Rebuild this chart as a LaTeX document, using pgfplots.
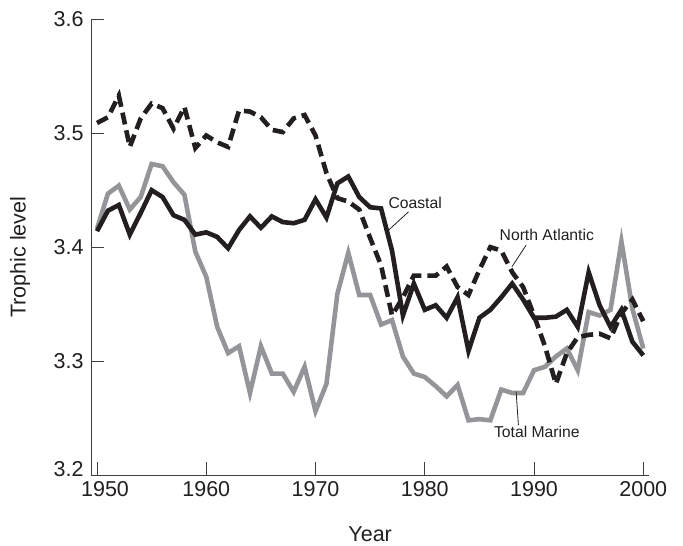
\documentclass[border=0pt]{standalone}
\usepackage{pgfplots}
\pgfplotsset{compat=1.18}
\usepackage{fontspec}
\setmainfont{Liberation Sans}
\definecolor{ink}{HTML}{231F20}
\definecolor{gr}{HTML}{939598}
\begin{document}
\begin{tikzpicture}
\path[use as bounding box] (-91bp,-71bp) rectangle (592bp,475bp);
\begin{axis}[
  at={(0,0)}, anchor=south west,
  width=558.3bp, height=455.7bp, scale only axis,
  xmin=1949.45, xmax=2000.55, ymin=3.2, ymax=3.6,
  axis x line*=bottom, axis y line*=left,
  axis line style={black!75, line width=0.9bp, -},
  tick align=inside, major tick length=13bp,
  tick style={black!75, line width=0.9bp},
  xtick={1960,1970,1980,1990,2000},
  xticklabels={1960,1970,1980,1990,2000},
  extra x ticks={1950}, extra x tick labels={1950},
  extra x tick style={xticklabel style={xshift=8bp}},
  ytick={3.3,3.4,3.5,3.6},
  yticklabels={3.3,3.4,3.5,3.6},
  extra y ticks={3.2}, extra y tick labels={3.2},
  extra y tick style={yticklabel style={yshift=6bp}},
  xticklabel style={yshift=-3bp},
  yticklabel style={xshift=-4bp},
  ticklabel style={font=\fontsize{21.5bp}{25bp}\selectfont, text=ink},
  label style={font=\fontsize{21.5bp}{25bp}\selectfont, text=ink},
  xlabel={Year}, ylabel={Trophic level},
  xlabel style={at={(axis description cs:0.5,-0.13)}, anchor=center},
  ylabel style={at={(axis description cs:-0.127,0.478)}, anchor=center},
  clip=false, no marks,
]
% Total Marine
\addplot[gr, line width=4.6bp, line join=miter] coordinates {
(1950,3.416) (1951,3.447) (1952,3.454) (1953,3.433) (1954,3.444) (1955,3.473)
(1956,3.471) (1957,3.457) (1958,3.446) (1959,3.396) (1960,3.374) (1961,3.330)
(1962,3.307) (1963,3.313) (1964,3.272) (1965,3.313) (1966,3.289) (1967,3.289)
(1968,3.273) (1969,3.295) (1970,3.256) (1971,3.280) (1972,3.359) (1973,3.395)
(1974,3.358) (1975,3.358) (1976,3.332) (1977,3.336) (1978,3.304) (1979,3.289)
(1980,3.286) (1981,3.278) (1982,3.269) (1983,3.279) (1984,3.248) (1985,3.249)
(1986,3.248) (1987,3.275) (1988,3.272) (1989,3.272) (1990,3.292) (1991,3.295)
(1992,3.304) (1993,3.311) (1994,3.292) (1995,3.343) (1996,3.340) (1997,3.345)
(1998,3.405) (1999,3.346) (2000,3.311)
};
% Coastal
\addplot[ink, line width=4.6bp, line join=miter] coordinates {
(1950,3.414) (1951,3.432) (1952,3.437) (1953,3.411) (1954,3.430) (1955,3.450)
(1956,3.444) (1957,3.428) (1958,3.424) (1959,3.411) (1960,3.413) (1961,3.409)
(1962,3.399) (1963,3.415) (1964,3.427) (1965,3.417) (1966,3.427) (1967,3.422)
(1968,3.421) (1969,3.424) (1970,3.442) (1971,3.426) (1972,3.456) (1973,3.462)
(1974,3.444) (1975,3.435) (1976,3.434) (1977,3.397) (1978,3.340) (1979,3.368)
(1980,3.345) (1981,3.349) (1982,3.338) (1983,3.356) (1984,3.309) (1985,3.338)
(1986,3.345) (1987,3.356) (1988,3.368) (1989,3.354) (1990,3.338) (1991,3.338)
(1992,3.339) (1993,3.345) (1994,3.330) (1995,3.378) (1996,3.349) (1997,3.330)
(1998,3.345) (1999,3.317) (2000,3.305)
};
% North Atlantic
\addplot[ink, line width=4.6bp, line join=miter, dash pattern=on 12bp off 6bp] coordinates {
(1950,3.509) (1951,3.514) (1952,3.533) (1953,3.488) (1954,3.513) (1955,3.526)
(1956,3.522) (1957,3.504) (1958,3.523) (1959,3.487) (1960,3.498) (1961,3.492)
(1962,3.488) (1963,3.520) (1964,3.519) (1965,3.514) (1966,3.503) (1967,3.501)
(1968,3.513) (1969,3.516) (1970,3.498) (1971,3.465) (1972,3.443) (1973,3.440)
(1974,3.433) (1975,3.408) (1976,3.384) (1977,3.340) (1978,3.356) (1979,3.375)
(1980,3.375) (1981,3.375) (1982,3.383) (1983,3.365) (1984,3.358) (1985,3.380)
(1986,3.400) (1987,3.397) (1988,3.378) (1989,3.365) (1990,3.340) (1991,3.313)
(1992,3.280) (1993,3.307) (1994,3.321) (1995,3.323) (1996,3.324) (1997,3.320)
(1998,3.342) (1999,3.354) (2000,3.335)
};
\node[font=\fontsize{15.7bp}{18bp}\selectfont, text=ink] at (axis cs:1979.12,3.4389) {Coastal};
\draw[ink, line width=0.8bp] (axis cs:1978.51,3.431) -- (axis cs:1976.68,3.4149);
\node[font=\fontsize{15.7bp}{18bp}\selectfont, text=ink] at (axis cs:1991.17,3.4105) {North Atlantic};
\draw[ink, line width=0.8bp] (axis cs:1989.28,3.4018) -- (axis cs:1987.97,3.3827);
\node[font=\fontsize{15.7bp}{18bp}\selectfont, text=ink] at (axis cs:1990.26,3.238) {Total Marine};
\draw[ink, line width=0.8bp] (axis cs:1988.57,3.2439) -- (axis cs:1988.36,3.2731);
\end{axis}
\end{tikzpicture}
\end{document}
